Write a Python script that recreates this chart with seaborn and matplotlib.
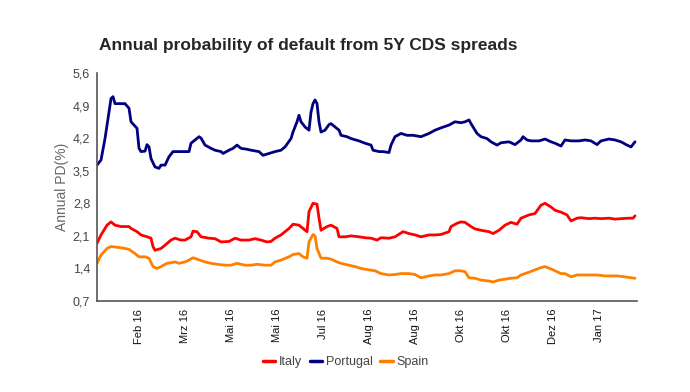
import pandas as pd
import seaborn as sns
import matplotlib.pyplot as plt

# trading-day index and annual PD (%)
italy_day = [0, 2, 5, 7, 9, 12, 16, 17, 20, 22, 25, 27, 28, 29, 32, 34, 37, 39, 42, 44, 47, 48, 50, 52, 56, 59, 62, 66,
             69, 72, 76, 79, 82, 85, 87, 89, 92, 96, 98, 101, 103, 105, 106, 108, 110, 111, 112, 115, 117, 120, 121,
             124, 127, 131, 134, 137, 140, 142, 146, 149, 153, 156, 159, 162, 166, 169, 172, 176, 177, 180, 182, 184,
             187, 189, 192, 196, 198, 201, 204, 207, 210, 212, 216, 219, 222, 224, 227, 229, 232, 235, 237, 240, 242,
             246, 249, 252, 256, 259, 262, 266, 268, 269]
italy_pd = [1.94, 2.12, 2.33, 2.40, 2.33, 2.30, 2.30, 2.26, 2.19, 2.12, 2.08, 2.05, 1.87, 1.79, 1.83, 1.90, 2.01, 2.05,
            2.01, 2.01, 2.08, 2.20, 2.19, 2.08, 2.05, 2.04, 1.97, 1.98, 2.05, 2.01, 2.01, 2.04, 2.01, 1.97, 1.98, 2.05,
            2.12, 2.26, 2.35, 2.33, 2.26, 2.19, 2.62, 2.80, 2.78, 2.48, 2.22, 2.30, 2.33, 2.26, 2.08, 2.08, 2.10, 2.08,
            2.06, 2.05, 2.01, 2.06, 2.05, 2.08, 2.19, 2.15, 2.12, 2.08, 2.12, 2.12, 2.13, 2.19, 2.30, 2.37, 2.40, 2.39,
            2.30, 2.25, 2.22, 2.19, 2.15, 2.22, 2.33, 2.39, 2.35, 2.48, 2.55, 2.58, 2.76, 2.80, 2.72, 2.65, 2.61, 2.55,
            2.42, 2.48, 2.49, 2.47, 2.48, 2.47, 2.48, 2.46, 2.47, 2.48, 2.48, 2.53]

portugal_day = [0, 2, 4, 6, 7, 8, 9, 12, 14, 16, 17, 20, 21, 22, 24, 25, 26, 27, 29, 31, 32, 34, 36, 38, 41, 43, 46,
                47, 49, 51, 52, 54, 57, 59, 62, 63, 66, 68, 70, 72, 75, 77, 81, 83, 86, 89, 92, 94, 97, 98, 100, 101,
                102, 104, 106, 107, 108, 109, 110, 111, 112, 114, 116, 117, 119, 121, 122, 125, 127, 131, 134, 137,
                138, 141, 143, 146, 147, 149, 152, 155, 158, 162, 166, 169, 172, 176, 179, 182, 184, 186, 187, 190,
                192, 195, 197, 200, 202, 206, 209, 212, 213, 215, 217, 221, 224, 227, 229, 232, 234, 237, 241, 244,
                247, 250, 252, 256, 259, 262, 265, 267, 269]
portugal_pd = [3.62, 3.73, 4.19, 4.76, 5.05, 5.09, 4.94, 4.94, 4.94, 4.84, 4.55, 4.41, 3.98, 3.91, 3.92, 4.06, 4.01,
               3.76, 3.58, 3.55, 3.62, 3.62, 3.80, 3.91, 3.91, 3.91, 3.91, 4.09, 4.16, 4.23, 4.20, 4.05, 3.98, 3.94,
               3.91, 3.87, 3.94, 3.98, 4.05, 3.98, 3.96, 3.94, 3.91, 3.83, 3.87, 3.91, 3.94, 4.01, 4.19, 4.33, 4.55,
               4.69, 4.55, 4.44, 4.37, 4.76, 4.94, 5.02, 4.94, 4.55, 4.33, 4.37, 4.49, 4.51, 4.44, 4.37, 4.26, 4.23,
               4.19, 4.14, 4.09, 4.05, 3.94, 3.91, 3.91, 3.89, 4.05, 4.23, 4.30, 4.26, 4.26, 4.23, 4.30, 4.37, 4.42,
               4.48, 4.55, 4.53, 4.55, 4.59, 4.51, 4.30, 4.23, 4.19, 4.12, 4.05, 4.10, 4.12, 4.06, 4.16, 4.23, 4.16,
               4.14, 4.14, 4.18, 4.12, 4.09, 4.03, 4.16, 4.14, 4.14, 4.16, 4.14, 4.06, 4.14, 4.18, 4.16, 4.12, 4.05,
               4.01, 4.12]

spain_day = [0, 2, 5, 7, 11, 14, 16, 19, 21, 24, 26, 28, 30, 32, 35, 39, 41, 44, 46, 48, 50, 54, 57, 60, 64, 67, 70,
             74, 77, 80, 84, 87, 89, 92, 96, 98, 101, 103, 105, 106, 108, 109, 110, 112, 115, 117, 120, 122, 126, 129,
             132, 136, 139, 142, 146, 149, 152, 156, 159, 162, 166, 169, 172, 176, 179, 182, 184, 186, 189, 192, 196,
             198, 201, 204, 207, 210, 212, 216, 219, 222, 224, 227, 229, 232, 234, 237, 240, 244, 247, 250, 254, 257,
             260, 264, 267, 269]
spain_pd = [1.51, 1.69, 1.83, 1.87, 1.85, 1.83, 1.81, 1.72, 1.65, 1.65, 1.62, 1.44, 1.40, 1.44, 1.51, 1.54, 1.51, 1.54,
            1.58, 1.63, 1.60, 1.54, 1.51, 1.49, 1.47, 1.47, 1.51, 1.47, 1.47, 1.49, 1.47, 1.47, 1.54, 1.58, 1.65, 1.70,
            1.72, 1.65, 1.62, 1.97, 2.13, 2.10, 1.83, 1.62, 1.62, 1.60, 1.54, 1.51, 1.47, 1.44, 1.40, 1.37, 1.35, 1.29,
            1.26, 1.27, 1.29, 1.29, 1.27, 1.20, 1.24, 1.26, 1.26, 1.29, 1.35, 1.35, 1.33, 1.20, 1.19, 1.15, 1.13, 1.11,
            1.15, 1.17, 1.19, 1.20, 1.26, 1.32, 1.37, 1.42, 1.44, 1.39, 1.35, 1.29, 1.29, 1.22, 1.26, 1.26, 1.26, 1.26,
            1.24, 1.24, 1.24, 1.22, 1.20, 1.19]

tick_days = [21, 44, 67, 90, 113, 136, 159, 182, 205, 228, 251]
tick_labels = ["Feb 16", "Mrz 16", "Mai 16", "Mai 16", "Jul 16", "Aug 16", "Aug 16",
               "Okt 16", "Okt 16", "Dez 16", "Jan 17"]
y_ticks = [0.7, 1.4, 2.1, 2.8, 3.5, 4.2, 4.9, 5.6]

df = pd.concat([
    pd.DataFrame({"day": italy_day, "pd": italy_pd, "country": "Italy"}),
    pd.DataFrame({"day": portugal_day, "pd": portugal_pd, "country": "Portugal"}),
    pd.DataFrame({"day": spain_day, "pd": spain_pd, "country": "Spain"}),
])

sns.set_style("white")
plt.rcParams["font.family"] = ["Liberation Sans", "DejaVu Sans"]

fig = plt.figure(figsize=(6.9, 3.92), dpi=100)
ax = fig.add_axes([0.1406, 0.232, 0.7826, 0.582])

sns.lineplot(data=df, x="day", y="pd", hue="country", estimator=None, sort=True,
             palette={"Italy": "#ff0000", "Portugal": "#000080", "Spain": "#ff8000"},
             linewidth=2.0, ax=ax)

ax.set_xlim(0, 270)
ax.set_ylim(0.7, 5.6)
ax.set_xticks(tick_days)
ax.set_xticklabels(tick_labels, rotation=90, fontsize=8, color="#111111")
ax.set_yticks(y_ticks)
ax.set_yticklabels([f"{v:.1f}".replace(".", ",") for v in y_ticks], fontsize=9, color="#444444")
ax.set_xlabel("")
ax.set_ylabel("Annual PD(%)", fontsize=10, color="#666666", labelpad=3)

sns.despine(ax=ax)
for s in ["left", "bottom"]:
    ax.spines[s].set_color("#555555")
    ax.spines[s].set_linewidth(1.2)
ax.tick_params(axis="x", direction="inout", length=7, width=1, color="#555555", pad=2)
ax.tick_params(axis="y", direction="out", length=4, width=1, color="#555555", pad=1)

sns.move_legend(ax, "center", bbox_to_anchor=(0.461, -0.268), ncol=3, frameon=False, title=None,
                fontsize=9, handlelength=1.0, handletextpad=0.3, columnspacing=0.6)
for line in ax.get_legend().get_lines():
    line.set_linewidth(2.5)
for t in ax.get_legend().get_texts():
    t.set_color("#444444")

fig.text(0.447, 0.885, "Annual probability of default from 5Y CDS spreads",
         ha="center", va="center", fontsize=12.5, fontweight="bold")

fig.savefig("out.png", dpi=100)
